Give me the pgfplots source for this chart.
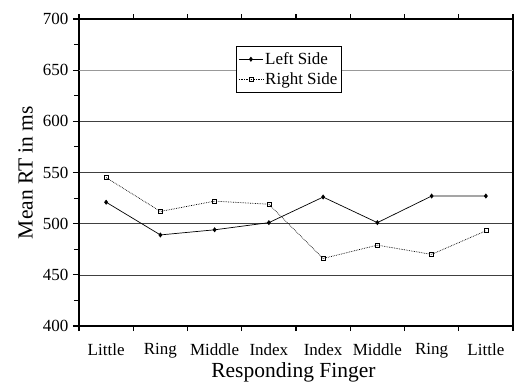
\documentclass[border=0pt]{standalone}
\usepackage{fontspec}
\setmainfont{Liberation Serif}
\usepackage{pgfplots}
\pgfplotsset{compat=1.18}
\begin{document}
\begin{tikzpicture}
\begin{axis}[
  scale only axis,
  width=434pt, height=307pt,
  xmin=0.5, xmax=8.5,
  ymin=400, ymax=700,
  ytick={400,450,500,550,600,700},
  extra y ticks={650},
  extra y tick style={grid style={black!40, line width=0.8pt}},
  minor ytick={425,475,...,675},
  xtick={1,...,8},
  xticklabels={Little,Ring,Middle,Index,Index,Middle,Ring,Little},
  minor xtick={0.5,1.5,...,8.5},
  tick align=outside,
  major x tick style={draw=none},
  major tick length=6pt,
  tick style={black, line width=1.2pt},
  minor y tick style={line width=1pt},
  minor tick length=5pt,
  minor x tick style={line width=1.2pt},
  axis line style={line width=1.2pt},
  ymajorgrids,
  grid style={black!75, line width=0.6pt},
  /pgf/number format/assume math mode=true,
  ticklabel style={font=\fontsize{17}{19}\selectfont},
  xticklabel style={yshift=-8pt},
  yticklabel style={xshift=-1pt},
  xlabel={Responding Finger},
  ylabel={Mean RT in ms},
  label style={font=\fontsize{21.5}{23}\selectfont},
  xlabel style={at={(axis description cs:0.494,0)}, anchor=base, yshift=-51pt},
  ylabel style={at={(axis description cs:-0.107,0.5)}, anchor=base},
  legend image code/.code={\draw[mark repeat=2,mark phase=2,#1] plot coordinates {(0cm,0cm) (0.42cm,0cm) (0.84cm,0cm)};},
  legend style={at={(rel axis cs:0.362,0.912)}, anchor=north west,
    draw=black, line width=1pt, font=\fontsize{17}{19}\selectfont,
    inner xsep=2pt, inner ysep=4pt, row sep=3pt, cells={anchor=west}},
  legend cell align=left,
  clip=false,
]
\addplot[black, line width=0.7pt, mark=diamond*, mark size=2pt, mark options={solid, fill=black}]
  coordinates {(1,521) (2,489) (3,494) (4,501) (5,526) (6,501) (7,527) (8,527)};
\addlegendentry{Left Side}
\addplot[black, line width=0.7pt, densely dotted, mark=square, mark size=2pt, mark options={solid, line width=0.7pt}]
  coordinates {(1,545) (2,512) (3,522) (4,519) (5,466) (6,479) (7,470) (8,493)};
\addlegendentry{Right Side}
\end{axis}
\pgfresetboundingbox
\path (current axis.south west) ++(-79pt,-55pt) coordinate (bbA);
\path (current axis.north east) ++(1pt,19pt) coordinate (bbB);
\useasboundingbox (bbA) rectangle (bbB);
\end{tikzpicture}
\end{document}
